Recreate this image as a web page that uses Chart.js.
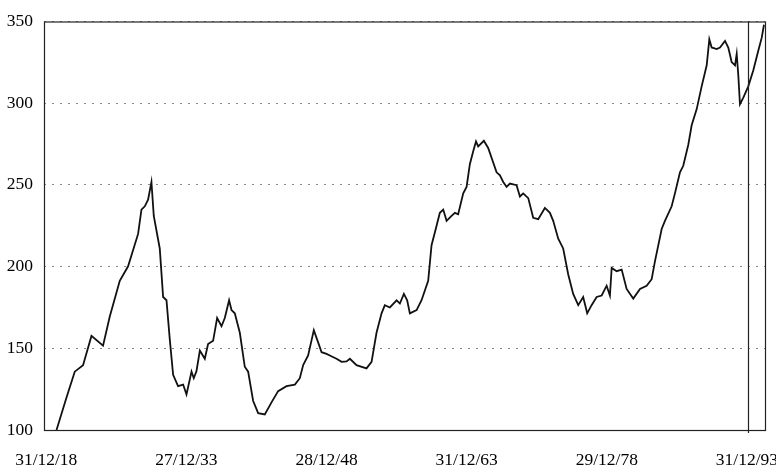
<!DOCTYPE html>
<html>
<head>
<meta charset="utf-8">
<script src="https://cdn.jsdelivr.net/npm/chart.js@4"></script>
<style>
  body { margin: 0; background: #fff; }
</style>
</head>
<body>
<canvas id="indexChart" width="776" height="472"></canvas>
<script>
// tick labels on the x axis (one every 15 years)
const tickYears = [1918, 1933, 1948, 1963, 1978, 1993];
const tickLabels = ["31/12/18", "27/12/33", "28/12/48", "31/12/63", "29/12/78", "31/12/93"];

// series (x = decimal year)
const years = [
  1919.10, 1920.16, 1921.05, 1921.94, 1922.84, 1924.08, 1924.80, 1925.87, 1926.76, 1927.83,
  1928.19, 1928.55, 1928.90, 1929.26, 1929.51, 1930.15, 1930.51, 1930.87, 1931.22, 1931.58,
  1932.11, 1932.65, 1933.01, 1933.55, 1933.79, 1934.08, 1934.44, 1934.97, 1935.32, 1935.86,
  1936.29, 1936.76, 1937.11, 1937.57, 1937.83, 1938.18, 1938.72, 1939.25, 1939.61, 1940.14,
  1940.68, 1941.39, 1942.11, 1942.82, 1943.72, 1944.61, 1945.14, 1945.50, 1946.03, 1946.64,
  1947.10, 1947.47, 1948.00, 1948.35, 1949.07, 1949.61, 1950.14, 1950.50, 1951.21, 1952.28,
  1952.82, 1953.35, 1953.89, 1954.24, 1954.78, 1955.50, 1955.85, 1956.28, 1956.63, 1956.92,
  1957.64, 1958.17, 1958.88, 1959.24, 1959.60, 1960.13, 1960.49, 1960.85, 1961.38, 1961.74,
  1962.09, 1962.63, 1962.99, 1963.34, 1963.70, 1964.00, 1964.23, 1964.84, 1965.30, 1966.20,
  1966.56, 1966.91, 1967.27, 1967.63, 1968.34, 1968.70, 1969.05, 1969.59, 1970.12, 1970.66,
  1971.37, 1971.91, 1972.26, 1972.80, 1973.33, 1973.87, 1974.40, 1974.94, 1975.47, 1975.90,
  1976.37, 1976.91, 1977.45, 1977.98, 1978.33, 1978.52, 1979.05, 1979.59, 1980.12, 1980.83,
  1981.55, 1982.26, 1982.80, 1983.15, 1983.87, 1984.22, 1984.94, 1985.29, 1985.83, 1986.18,
  1986.72, 1987.08, 1987.62, 1988.15, 1988.69, 1988.97, 1989.22, 1989.76, 1990.11, 1990.65,
  1991.00, 1991.36, 1991.72, 1991.90, 1992.07, 1992.25, 1992.61, 1993.14, 1993.68, 1994.21,
  1994.58, 1994.82
];
const values = [
  100.0, 119.8, 135.7, 139.7, 157.6, 151.6, 169.5, 191.3, 200.2, 220.0,
  234.9, 236.9, 240.9, 251.8, 231.0, 211.1, 181.4, 179.4, 155.6, 133.8,
  126.8, 127.8, 121.8, 135.7, 131.7, 136.0, 148.6, 143.6, 152.6, 154.6,
  168.5, 163.5, 168.5, 179.4, 173.4, 171.4, 159.5, 138.7, 135.7, 117.9,
  110.3, 109.5, 116.9, 123.8, 126.8, 127.8, 131.7, 139.7, 145.6, 161.1,
  153.6, 147.6, 146.6, 145.6, 143.6, 141.7, 142.0, 143.6, 139.7, 137.7,
  141.7, 159.5, 171.4, 176.4, 175.0, 179.4, 177.4, 183.3, 179.4, 171.4,
  173.4, 179.4, 191.3, 213.1, 221.0, 232.9, 234.9, 228.0, 231.0, 232.9,
  232.0, 244.8, 248.8, 262.7, 270.6, 276.6, 273.6, 277.0, 272.6, 257.7,
  255.8, 251.8, 248.8, 250.8, 249.8, 242.9, 244.8, 241.9, 229.9, 229.0,
  235.9, 232.9, 228.0, 217.1, 211.1, 195.2, 183.3, 176.4, 181.4, 171.4,
  176.4, 181.4, 182.3, 188.3, 182.3, 199.2, 197.2, 198.2, 186.3, 180.4,
  186.3, 188.3, 192.3, 203.2, 223.0, 228.0, 236.9, 244.8, 257.7, 261.7,
  274.6, 286.5, 296.4, 310.3, 323.2, 339.1, 334.1, 333.1, 334.1, 338.1,
  334.1, 325.2, 323.2, 330.2, 317.3, 299.4, 303.4, 310.3, 320.2, 332.1,
  340.1, 348.0
];
const markerYear = 1993.1;

const points = years.map((x, i) => ({ x: x, y: values[i] }));
const serif = "'Liberation Serif', 'Times New Roman', serif";

// frame round the plot plus the vertical marker line
const framePlugin = {
  id: 'frame',
  afterDatasetsDraw(chart) {
    const { ctx, chartArea: a, scales } = chart;
    ctx.save();
    ctx.strokeStyle = '#222';
    ctx.lineWidth = 1.2;
    ctx.strokeRect(a.left + 0.5, a.top + 0.5, a.right - a.left, a.bottom - a.top);
    const mx = Math.round(scales.x.getPixelForValue(markerYear)) + 0.5;
    ctx.beginPath();
    ctx.moveTo(mx, a.top);
    ctx.lineTo(mx, a.bottom + 3);
    ctx.stroke();
    ctx.restore();
  }
};

const ctx = document.getElementById('indexChart').getContext('2d');

new Chart(ctx, {
  type: 'line',
  data: {
    datasets: [{
      data: points,
      borderColor: '#111',
      borderWidth: 1.8,
      pointRadius: 0,
      tension: 0,
      fill: false
    }]
  },
  options: {
    responsive: false,
    animation: false,
    layout: { padding: { top: 10, right: 11, left: 0, bottom: 0 } },
    plugins: { legend: { display: false }, tooltip: { enabled: false } },
    scales: {
      x: {
        type: 'linear',
        min: 1917.76,
        max: 1994.93,
        afterBuildTicks(scale) {
          scale.ticks = tickYears.map(v => ({ value: v }));
        },
        afterFit(scale) {
          scale.height = 42;
          scale.paddingLeft = 0;
          scale.paddingRight = 0;
        },
        grid: { display: false, drawTicks: false },
        border: { display: false },
        ticks: {
          autoSkip: false,
          maxRotation: 0,
          padding: 20,
          color: '#000',
          font: { family: serif, size: 17.5 },
          callback: (v) => tickLabels[tickYears.indexOf(v)]
        }
      },
      y: {
        min: 100,
        max: 350,
        afterFit(scale) {
          scale.width = 44;
        },
        grid: { color: '#888', lineWidth: 1, drawTicks: false },
        border: { display: false, dash: [2, 6] },
        ticks: {
          stepSize: 50,
          padding: 11,
          color: '#000',
          font: { family: serif, size: 17.5 }
        }
      }
    }
  },
  plugins: [framePlugin]
});
</script>
</body>
</html>
